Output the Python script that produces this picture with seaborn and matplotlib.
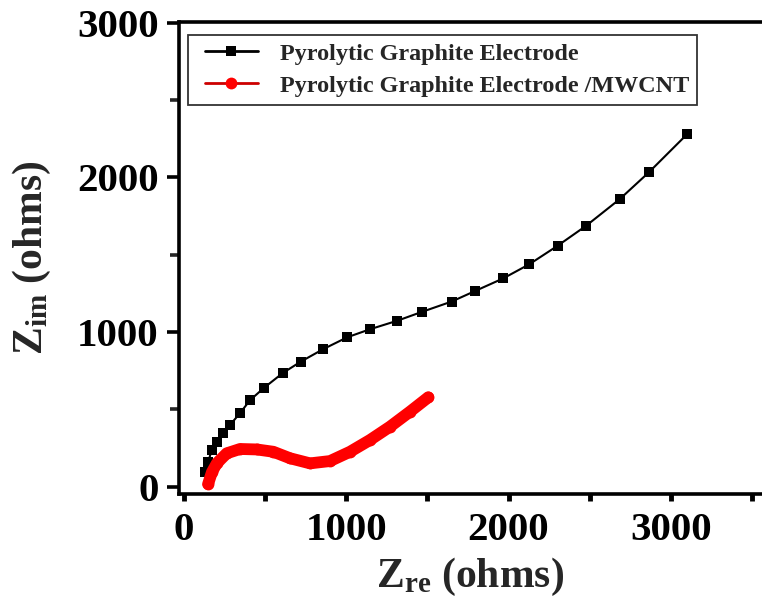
import matplotlib
matplotlib.use("Agg")
import matplotlib.pyplot as plt
import seaborn as sns
from matplotlib.ticker import MultipleLocator
from matplotlib.lines import Line2D
from matplotlib.legend_handler import HandlerLine2D

# ---- data ----
pge_x = [131, 151, 172, 203, 240, 285, 347, 408, 493, 610, 720, 860, 1007, 1147,
         1315, 1469, 1650, 1794, 1968, 2128, 2303, 2477, 2686, 2865, 3101]
pge_y = [95, 160, 237, 291, 345, 399, 476, 559, 638, 735, 808, 890, 966, 1018,
         1073, 1131, 1197, 1265, 1347, 1438, 1558, 1686, 1860, 2033, 2280]
mw_x = [150, 174, 205, 265, 347, 450, 552, 655, 778, 901, 1024, 1147, 1270, 1393, 1506]
mw_y = [17, 95, 153, 216, 244, 241, 226, 184, 151, 166, 226, 302, 388, 485, 578]
labels = ["Pyrolytic Graphite Electrode", "Pyrolytic Graphite Electrode /MWCNT"]
x_ticks = [0, 1000, 2000, 3000]
y_ticks = [0, 1000, 2000, 3000]

sns.set_style("ticks")
plt.rcParams["font.family"] = ["Liberation Serif", "DejaVu Serif"]
plt.rcParams["font.weight"] = "bold"
plt.rcParams["mathtext.fontset"] = "custom"
plt.rcParams["mathtext.rm"] = "Liberation Serif:bold"
plt.rcParams["mathtext.bf"] = "Liberation Serif:bold"
plt.rcParams["mathtext.it"] = "Liberation Serif:bold"

fig = plt.figure(figsize=(7.62, 6.0), dpi=100)
ax = fig.add_axes([179 / 762, 1 - 494 / 600, (762 - 179) / 762, (494 - 22) / 600])

sns.lineplot(x=pge_x, y=pge_y, ax=ax, color="black", lw=1.5, marker="s",
             markersize=7.2, markeredgewidth=0, sort=False, estimator=None,
             label=labels[0])
sns.lineplot(x=mw_x, y=mw_y, ax=ax, color="#ff0000", lw=8.5, marker="o",
             markersize=8.5, markeredgewidth=0, sort=False, estimator=None,
             solid_capstyle="round", solid_joinstyle="round", label=labels[1])

ax.set_xlim(-29, 3561)
ax.set_ylim(-47, 3004)
ax.set_xticks(x_ticks)
ax.set_yticks(y_ticks)
ax.xaxis.set_minor_locator(MultipleLocator(500))
ax.yaxis.set_minor_locator(MultipleLocator(500))

for s in ["left", "bottom", "top"]:
    ax.spines[s].set_linewidth(2.6)
    ax.spines[s].set_color("black")
ax.spines["right"].set_visible(False)

ax.tick_params(axis="y", which="major", direction="out", length=8.5, width=2.6,
               labelsize=29.5, pad=6, colors="black")
ax.tick_params(axis="y", which="minor", direction="out", length=6.5, width=2.6)
ax.tick_params(axis="x", which="both", direction="out", length=5, width=3.5,
               labelsize=29.5, pad=8, colors="black")
ax.tick_params(top=False, right=False, which="both")
for lab in ax.get_xticklabels() + ax.get_yticklabels():
    lab.set_fontweight("bold")

ax.set_xlabel(r"$\mathrm{Z_{re}}$ (ohms)", fontsize=30, fontweight="bold")
ax.set_ylabel(r"$\mathrm{Z_{im}}$ (ohms)", fontsize=30, fontweight="bold")
ax.xaxis.set_label_coords(0.5, -0.132)
ax.yaxis.set_label_coords(-0.216, 0.5)

handles, labs = ax.get_legend_handles_labels()
leg = ax.legend(handles, labs, loc="upper left", bbox_to_anchor=(0.0154, 0.9725),
                borderaxespad=0, frameon=True, fancybox=False, framealpha=1,
                edgecolor="#333333", prop={"family": "Liberation Serif",
                                           "weight": "bold", "size": 17.4},
                handlelength=2.56, handletextpad=0.9, labelspacing=0.41,
                borderpad=0.33,
                handler_map={Line2D: HandlerLine2D(xpad=0.37)})
leg.get_frame().set_linewidth(1.3)
lines = leg.get_lines()
lines[0].set_linewidth(2.0)
lines[1].set_linewidth(2.0)
lines[1].set_color("#cc0000")
lines[1].set_markerfacecolor("#ff0000")

fig.savefig("out.png", dpi=100)
